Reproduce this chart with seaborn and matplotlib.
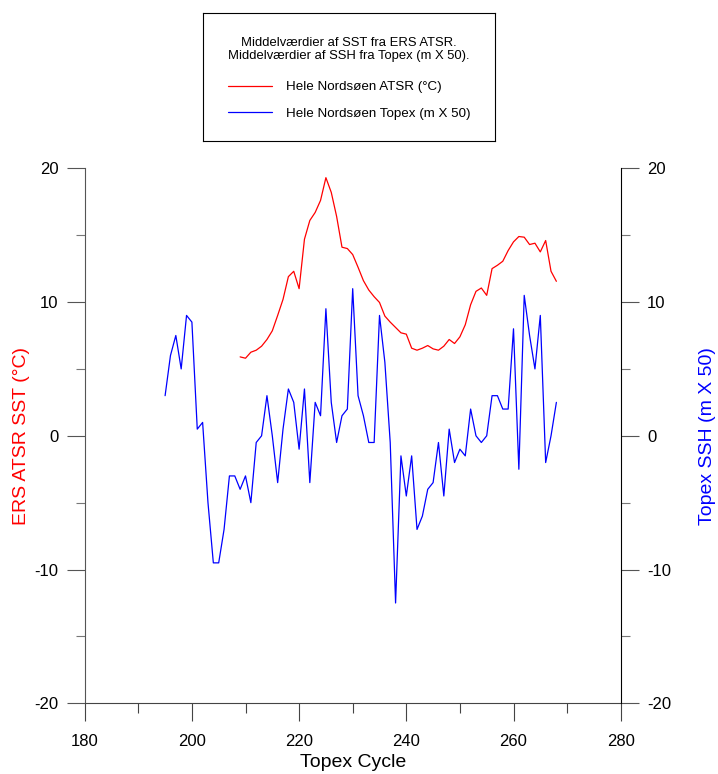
import matplotlib
matplotlib.use("Agg")
import matplotlib.pyplot as plt
from matplotlib.ticker import MultipleLocator
import numpy as np
import pandas as pd
import seaborn as sns

# Mean SST from ERS ATSR, North Sea, per Topex cycle
sst_cycles = list(range(209, 269))
sst_values = [
    5.9, 5.8, 6.25, 6.4, 6.7, 7.2, 7.85, 9.0, 10.2, 11.9,
    12.3, 11.0, 14.7, 16.1, 16.7, 17.6, 19.3, 18.2, 16.4, 14.1,
    14.0, 13.55, 12.6, 11.6, 10.9, 10.4, 9.97, 8.95, 8.5, 8.1,
    7.7, 7.6, 6.55, 6.4, 6.55, 6.75, 6.5, 6.4, 6.7, 7.2,
    6.9, 7.4, 8.3, 9.8, 10.8, 11.05, 10.5, 12.5, 12.75, 13.05,
    13.85, 14.5, 14.9, 14.85, 14.3, 14.4, 13.75, 14.6, 12.3, 11.55,
]

# Mean SSH from Topex (m x 50), North Sea, per cycle
ssh_cycles = list(range(195, 269))
ssh_values = [
    3.0, 6.0, 7.5, 5.0, 9.0, 8.5, 0.5, 1.0, -5.0, -9.5,
    -9.5, -7.0, -3.0, -3.0, -4.0, -3.0, -5.0, -0.5, 0.0, 3.0,
    0.0, -3.5, 0.5, 3.5, 2.5, -1.0, 3.5, -3.5, 2.5, 1.5,
    9.5, 2.5, -0.5, 1.5, 2.0, 11.0, 3.0, 1.5, -0.5, -0.5,
    9.0, 5.5, -0.5, -12.5, -1.5, -4.5, -1.5, -7.0, -6.0, -4.0,
    -3.5, -0.5, -4.5, 0.5, -2.0, -1.0, -1.5, 2.0, 0.0, -0.5,
    0.0, 3.0, 3.0, 2.0, 2.0, 8.0, -2.5, 10.5, 7.5, 5.0,
    9.0, -2.0, 0.0, 2.5,
]

x_ticks = [180, 200, 220, 240, 260, 280]
y_ticks = [-20, -10, 0, 10, 20]

legend_title = ("Middelværdier af SST fra ERS ATSR.\n"
                "Middelværdier af SSH fra Topex (m X 50).")
sst_label = "Hele Nordsøen ATSR (°C)"
ssh_label = "Hele Nordsøen Topex (m X 50)"

sns.set_style("ticks")
plt.rcParams["font.family"] = ["Liberation Sans", "DejaVu Sans"]
plt.rcParams["axes.unicode_minus"] = False
plt.rcParams["text.color"] = "black"
plt.rcParams["xtick.labelcolor"] = "black"
plt.rcParams["ytick.labelcolor"] = "black"
plt.rcParams["axes.labelcolor"] = "black"

W, H = 718, 774
fig = plt.figure(figsize=(W / 100, H / 100), dpi=100)

left, right, top, bottom = 84.7, 620.7, 168.3, 703.3
ax = fig.add_axes([left / W, 1 - bottom / H, (right - left) / W, (bottom - top) / H])
ax2 = ax.twinx()

sst_df = pd.DataFrame({"cycle": sst_cycles, "sst": sst_values})
ssh_df = pd.DataFrame({"cycle": ssh_cycles, "ssh": ssh_values})

sns.lineplot(data=sst_df, x="cycle", y="sst", ax=ax, color="#ff0000",
             linewidth=0.9, label=sst_label, legend=False)
sns.lineplot(data=ssh_df, x="cycle", y="ssh", ax=ax2, color="#0000ff",
             linewidth=0.9, label=ssh_label, legend=False)

for a in (ax, ax2):
    a.set_xlim(180, 280)
    a.set_ylim(-20, 20)
    a.set_yticks(y_ticks)
    a.yaxis.set_minor_locator(MultipleLocator(5))
    a.spines["top"].set_visible(False)

ax.set_xticks(x_ticks)
ax.xaxis.set_minor_locator(MultipleLocator(10))
ax.spines["right"].set_visible(False)
ax2.spines["left"].set_visible(False)
ax2.spines["bottom"].set_visible(False)

ax.spines["left"].set_color("#555555")
ax.spines["bottom"].set_color("#444444")
ax2.spines["right"].set_color("#000000")
for s in ("left", "bottom"):
    ax.spines[s].set_linewidth(0.8)
ax2.spines["right"].set_linewidth(0.8)

ax.tick_params(axis="y", which="major", direction="out", length=13, width=0.8,
               color="#555555", labelsize=12, pad=6, labelcolor="black")
ax.tick_params(axis="y", which="minor", direction="out", length=6.5, width=0.8,
               color="#777777")
ax.tick_params(axis="x", which="major", direction="out", length=13, width=0.8,
               color="#444444", labelsize=12, pad=9, labelcolor="black")
ax.tick_params(axis="x", which="minor", direction="out", length=7, width=0.8,
               color="#444444")
ax2.tick_params(axis="y", which="major", direction="out", length=13, width=0.8,
                color="#555555", labelsize=12, pad=6, labelcolor="black")
ax2.tick_params(axis="y", which="minor", direction="out", length=6.5, width=0.8,
                color="#777777")

ax.set_xlabel("Topex Cycle", fontsize=14, labelpad=3.5, color="black")
ax.set_ylabel("ERS ATSR SST (°C)", fontsize=14, color="#ff0000", labelpad=3)
ax2.set_ylabel("Topex SSH (m X 50)", fontsize=14, color="#0000ff", labelpad=20)

# Boxed legend above the plot
bx0, bx1, by0, by1 = 203.3, 495.0, 13.3, 140.7
lax = fig.add_axes([bx0 / W, 1 - by1 / H, (bx1 - bx0) / W, (by1 - by0) / H])
lax.set_xticks([])
lax.set_yticks([])
for s in lax.spines.values():
    s.set_visible(True)
    s.set_color("black")
    s.set_linewidth(0.8)
lax.patch.set_facecolor("white")

lax.text(0.5, 1 - 36.5 / (by1 - by0), legend_title, ha="center", va="center",
         multialignment="center", fontsize=9.4, linespacing=1.1,
         color="black", transform=lax.transAxes)
handles = [ax.get_lines()[0], ax2.get_lines()[0]]
leg = lax.legend(handles, [sst_label, ssh_label], loc="center",
                 bbox_to_anchor=(0.5, 1 - 87.3 / (by1 - by0)), frameon=False,
                 fontsize=9.6, handlelength=3.3, handletextpad=1.1,
                 labelspacing=1.08, borderpad=0, borderaxespad=0)
for t in leg.get_texts():
    t.set_color("black")

fig.savefig("out.png", dpi=100)
